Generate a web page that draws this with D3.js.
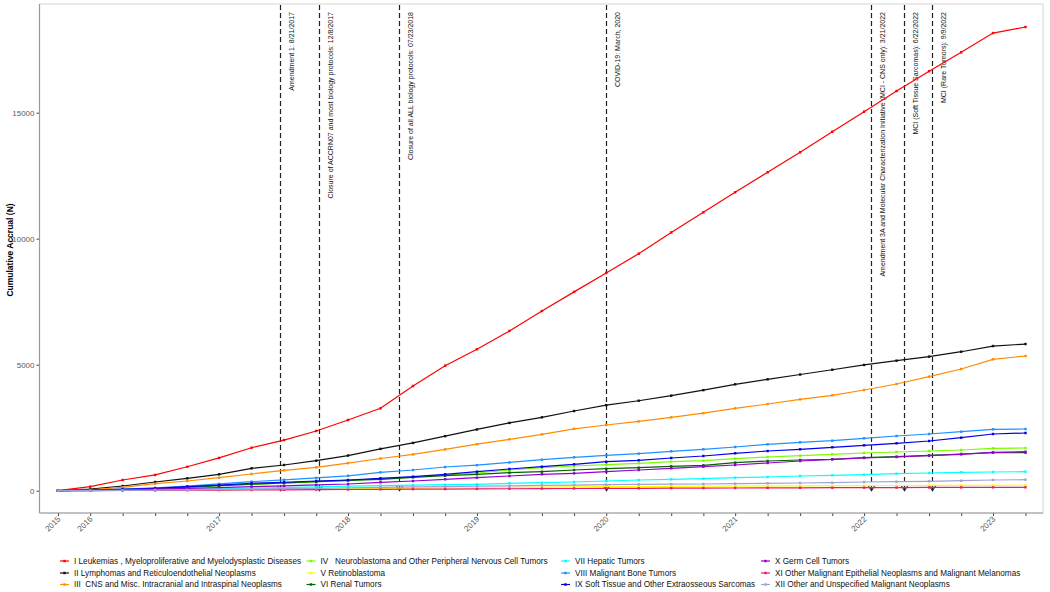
<!DOCTYPE html>
<html>
<head>
<meta charset="utf-8">
<script src="https://cdn.jsdelivr.net/npm/d3@7"></script>
<style>
  html, body { margin: 0; padding: 0; background: #ffffff; }
  svg { display: block; font-family: "Liberation Sans", Arial, sans-serif; }
</style>
</head>
<body>
<svg id="chart" width="1050" height="592"></svg>
<script>
// ---------- DATA ----------
const quarters = ["2015-12-01","2016-03-01","2016-06-01","2016-09-01","2016-12-01",
  "2017-03-01","2017-06-01","2017-09-01","2017-12-01","2018-03-01","2018-06-01","2018-09-01","2018-12-01",
  "2019-03-01","2019-06-01","2019-09-01","2019-12-01","2020-03-01","2020-06-01","2020-09-01","2020-12-01",
  "2021-03-01","2021-06-01","2021-09-01","2021-12-01","2022-03-01","2022-06-01","2022-09-01","2022-12-01",
  "2023-03-01","2023-06-01"];

const seriesNames = [
  "I Leukemias , Myeloproliferative and Myelodysplastic Diseases",
  "II Lymphomas and Reticuloendothelial Neoplasms",
  "III  CNS and Misc. Intracranial and Intraspinal Neoplasms",
  "IV   Neuroblastoma and Other Peripheral Nervous Cell Tumors",
  "V Retinoblastoma",
  "VI Renal Tumors",
  "VII Hepatic Tumors",
  "VIII Malignant Bone Tumors",
  "IX Soft Tissue and Other Extraosseous Sarcomas",
  "X Germ Cell Tumors",
  "XI Other Malignant Epithelial Neoplasms and Malignant Melanomas",
  "XII Other and Unspecified Malignant Neoplasms"
];
const seriesColors = ["#ff0000","#111111","#ff8c00","#7cfc00","#ffff00","#006400",
  "#00ffff","#1e90ff","#0000ee","#9400d3","#ee1a6a","#a0a0d6"];

const sI    = [0,160,425,625,950,1300,1705,2010,2370,2805,3270,4155,4960,5610,6340,7130,7890,8640,9405,10250,11045,11840,12635,13430,14245,15040,15860,16645,17395,18160,18400];
const sII   = [0,60,186,345,490,650,888,1020,1190,1395,1660,1895,2165,2430,2690,2912,3162,3395,3570,3770,3990,4222,4420,4610,4800,4990,5160,5320,5515,5740,5820];
const sIII  = [0,30,135,278,385,516,663,808,928,1092,1277,1442,1641,1847,2040,2238,2455,2607,2752,2912,3077,3268,3440,3625,3784,3996,4234,4524,4829,5214,5345];
const sIV   = [0,15,45,80,130,190,245,295,345,400,484,544,623,702,821,913,980,1032,1087,1151,1190,1270,1337,1389,1444,1496,1536,1575,1615,1682,1694];
const sV    = [0,5,10,20,30,40,50,60,70,80,90,100,110,120,130,140,150,158,166,172,178,184,190,195,200,204,207,210,212,214,216];
const sVI   = [0,15,45,85,140,200,260,310,360,410,452,532,595,651,714,754,821,873,913,968,1008,1111,1178,1218,1246,1310,1349,1405,1456,1508,1508];
const sVII  = [0,5,20,35,55,75,100,125,150,180,205,220,238,254,294,317,345,385,425,452,476,516,544,583,611,635,675,702,730,742,754];
const sVIII = [0,25,60,110,180,270,360,430,505,590,730,821,940,1015,1120,1230,1325,1400,1470,1563,1643,1734,1841,1921,1984,2079,2171,2250,2341,2436,2448];
const sIX   = [0,20,55,95,160,225,295,335,385,425,491,556,651,754,861,952,1048,1151,1206,1298,1377,1484,1575,1643,1722,1801,1881,1972,2103,2250,2290];
const sX    = [0,10,30,60,90,125,160,195,230,266,333,385,452,516,583,651,690,754,821,889,952,1020,1099,1178,1246,1298,1337,1389,1444,1524,1548];
const sXI   = [0,2,8,12,18,25,30,36,42,48,55,60,66,72,78,84,88,92,96,100,104,108,112,115,118,122,125,128,130,133,135];
const sXII  = [0,5,15,25,35,50,65,80,95,115,135,150,165,180,195,210,225,240,250,258,266,278,294,306,317,345,357,373,397,425,436];
const allSeries = [sI,sII,sIII,sIV,sV,sVI,sVII,sVIII,sIX,sX,sXI,sXII];

const yTicks = [0,5000,10000,15000];

const eventDates = ["2017-08-21","2017-12-08","2018-07-23","2020-03-01","2022-03-21","2022-06-22","2022-09-09"];
const eventLabels = [
  "Amendment 1: 8/21/2017",
  "Closure of ACCRN07 and most biology protocols: 12/8/2017",
  "Closure of all ALL biology protocols: 07/23/2018",
  "COVID-19: March, 2020",
  "Amendment 3A and Molecular Characterization Initiative (MCI - CNS only): 3/21/2022",
  "MCI (Soft Tissue Sarcomas): 6/22/2022",
  "MCI (Rare Tumors): 9/9/2022"
];

// ---------- LAYOUT ----------
const svg = d3.select("#chart");
const panel = {left: 39.5, right: 1043, top: 4, bottom: 513};
const parse = d3.timeParse("%Y-%m-%d");
const dates = quarters.map(parse);

const x = d3.scaleTime()
  .domain([dates[0], dates[dates.length-1]])
  .range([58, 1025.5]);
const y = d3.scaleLinear()
  .domain([-885, 19313])
  .range([panel.bottom, panel.top]);

// panel border
svg.append("rect")
  .attr("x", panel.left).attr("y", panel.top)
  .attr("width", panel.right - panel.left).attr("height", panel.bottom - panel.top)
  .attr("fill", "none").attr("stroke", "#d4d4d4").attr("stroke-width", 1);

// axes
const yAxis = d3.axisLeft(y).tickValues(yTicks).tickSize(3).tickPadding(2).tickFormat(d3.format("d"));
const gy = svg.append("g").attr("transform", `translate(${panel.left},0)`).call(yAxis);
gy.select(".domain").remove();
gy.selectAll(".tick line").attr("stroke", "#444");
gy.selectAll(".tick text").attr("fill", "#5a5a5a").style("font-size", "8px");

const xAxis = d3.axisBottom(x).tickValues(dates).tickSize(3).tickPadding(2)
  .tickFormat((d, i) => (i === 0 || d.getMonth() === 2) ? d3.timeFormat("%Y")(d) : "");
const gx = svg.append("g").attr("transform", `translate(0,${panel.bottom})`).call(xAxis);
gx.select(".domain").remove();
gx.selectAll(".tick line").attr("stroke", "#444");
gx.selectAll(".tick text")
  .attr("fill", "#5a5a5a").style("font-size", "8px")
  .attr("text-anchor", "end")
  .attr("dy", null).attr("y", 0)
  .attr("transform", "translate(2.5,6.5) rotate(-45)");

svg.append("line").attr("x1", panel.left).attr("x2", panel.left)
  .attr("y1", panel.top).attr("y2", panel.bottom).attr("stroke", "#9a9a9a").attr("stroke-width", 1.2);
svg.append("line").attr("x1", panel.left).attr("x2", panel.right)
  .attr("y1", panel.bottom).attr("y2", panel.bottom).attr("stroke", "#9a9a9a").attr("stroke-width", 1.2);

// y axis title
svg.append("text")
  .attr("transform", `translate(9.5,250) rotate(-90)`)
  .attr("text-anchor", "middle").attr("dominant-baseline", "central")
  .style("font-size", "8.5px").style("font-weight", "bold").attr("fill", "#000")
  .text("Cumulative Accrual (N)");

// event lines
const ev = svg.append("g");
eventDates.forEach((ds, i) => {
  const ex = Math.round(x(parse(ds))) + 0.5;
  const tipY = y(0);
  ev.append("line").attr("x1", ex).attr("x2", ex).attr("y1", panel.top + 1).attr("y2", tipY)
    .attr("stroke", "#222").attr("stroke-width", 1.2).attr("stroke-dasharray", "5,3");
  ev.append("path")
    .attr("d", `M${ex-3.2},${tipY-5} L${ex},${tipY} L${ex+3.2},${tipY-5}`)
    .attr("fill", "none").attr("stroke", "#222").attr("stroke-width", 1.1);
  ev.append("text")
    .attr("transform", `translate(${ex + 11},12) rotate(-90)`)
    .attr("text-anchor", "end").attr("dominant-baseline", "central")
    .style("font-size", "7px").attr("fill", "#111")
    .text(eventLabels[i]);
});

// series
const line = d3.line().x((d, i) => x(dates[i])).y(d => y(d));
const sg = svg.append("g");
allSeries.forEach((s, k) => {
  sg.append("path").datum(s).attr("d", line)
    .attr("fill", "none").attr("stroke", seriesColors[k]).attr("stroke-width", 1.2);
  sg.selectAll(null).data(s).enter().append("rect")
    .attr("x", (d, i) => x(dates[i]) - 1.2).attr("y", d => y(d) - 1.2)
    .attr("width", 2.4).attr("height", 2.4).attr("fill", seriesColors[k]);
});

// legend
const legCols = [60, 306.5, 561, 761];
const legRows = [561, 573, 584.5];
const lg = svg.append("g");
seriesNames.forEach((name, k) => {
  const c = Math.floor(k / 3), r = k % 3;
  const lx = legCols[c], ly = legRows[r];
  lg.append("line").attr("x1", lx).attr("x2", lx + 9).attr("y1", ly).attr("y2", ly)
    .attr("stroke", seriesColors[k]).attr("stroke-width", 1.2);
  lg.append("rect").attr("x", lx + 3.3).attr("y", ly - 1.2).attr("width", 2.4).attr("height", 2.4)
    .attr("fill", seriesColors[k]);
  lg.append("text").attr("x", lx + 14).attr("y", ly).attr("dominant-baseline", "central")
    .style("font-size", "8.2px").style("white-space", "pre").attr("fill", "#111")
    .text(name);
});
</script>
</body>
</html>
